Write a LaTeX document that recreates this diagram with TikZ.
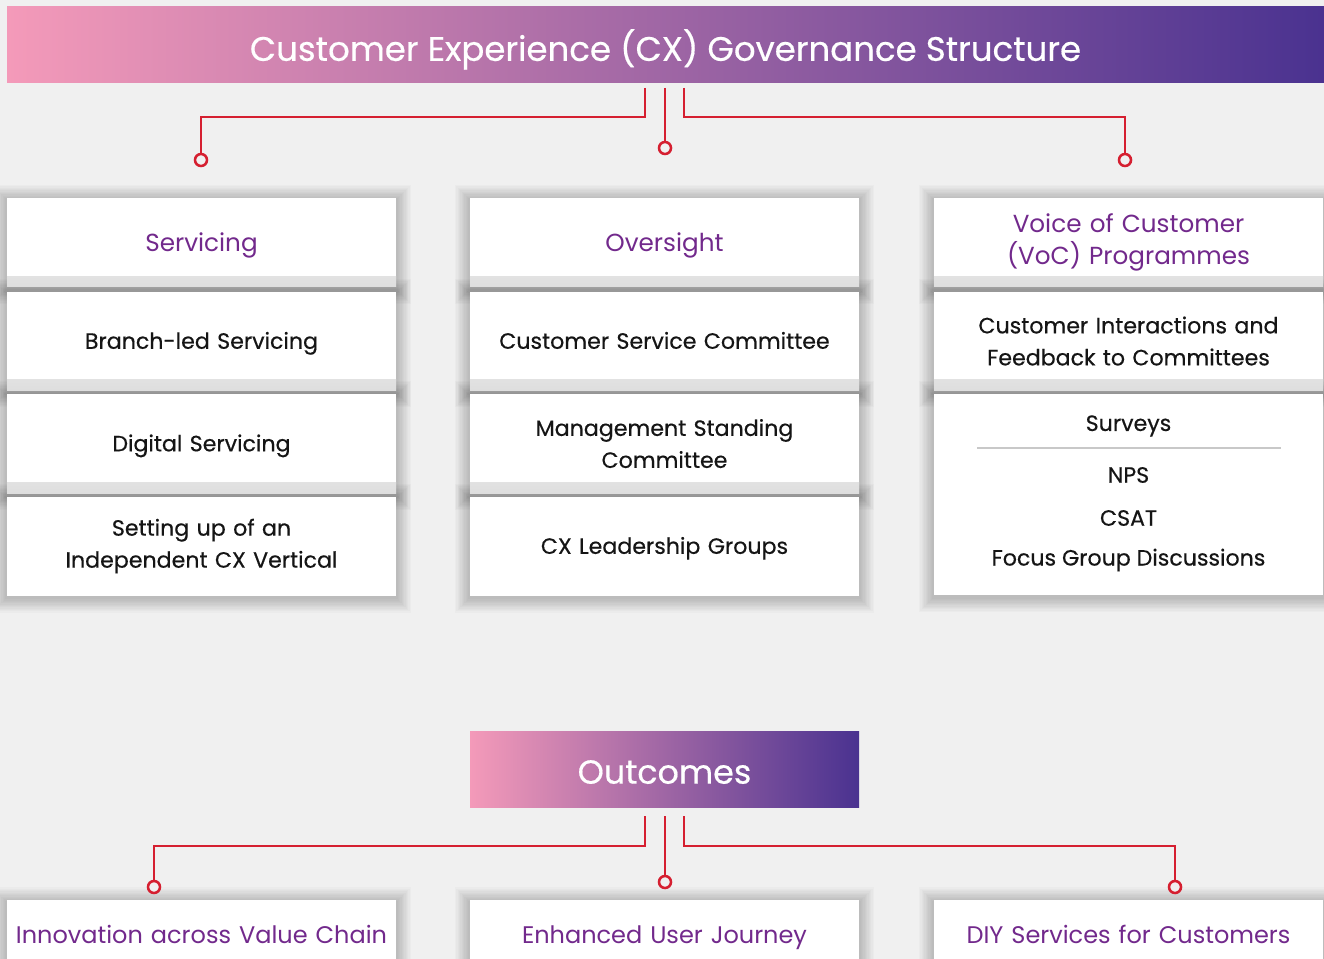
\documentclass[tikz,border=0pt]{standalone}
\usepackage{fontspec}
\setmainfont{Poppins}
\newfontfamily\medfont[FakeBold=0.45]{Poppins}
\usetikzlibrary{positioning, backgrounds}

\definecolor{bgGrey}{HTML}{F0F0F0}
\definecolor{gradPink}{HTML}{F49AB9}
\definecolor{gradPurple}{HTML}{4A3290}
\definecolor{linkRed}{HTML}{D51F30}
\definecolor{headPurple}{HTML}{72298C}
\definecolor{bodyText}{HTML}{151515}
\definecolor{ruleGrey}{HTML}{C8C8C8}

\tikzstyle{banner} = [rectangle, left color=gradPink, right color=gradPurple,
  text=white, inner sep=0pt]
\tikzstyle{card} = [rectangle, fill=white, minimum width=291.75pt,
  text width=290pt, align=center, inner sep=0pt]
\tikzstyle{fadeBottom} = [path picture={\shade[top color=white,
  bottom color=black!13] (path picture bounding box.south west)
  rectangle ([yshift=8pt]path picture bounding box.south east);}]
\tikzstyle{head} = [card, minimum height=66.75pt, text=headPurple,
  font=\fontsize{18.5}{24}\selectfont]
\tikzstyle{headOne} = [head, text height=17.5pt, text depth=4.55pt]
\tikzstyle{item} = [card, minimum height=74.25pt, text=bodyText,
  font=\medfont\fontsize{16.6}{24}\selectfont]
\tikzstyle{itemOne} = [item, text height=15.8pt, text depth=4.2pt]
\tikzstyle{plain} = [text=bodyText, font=\medfont\fontsize{16.6}{24}\selectfont]
\tikzstyle{goal} = [head, minimum height=52pt, anchor=north,
  font=\fontsize{18}{24}\selectfont, text height=17pt, text depth=4.4pt]
\tikzstyle{link} = [linkRed, line width=1.9pt]
\tikzstyle{dot} = [circle, draw=linkRed, line width=1.9pt, fill=bgGrey,
  minimum size=9pt, inner sep=0pt]

\begin{document}
\begin{tikzpicture}[x=0.75pt, y=-0.75pt]

\useasboundingbox (0,0) rectangle (1324,959);

%% banners
\node (title) [banner, minimum width=987.75pt, minimum height=57pt,
  font=\medfont\fontsize{25.5}{30}\selectfont, text height=30pt,
  text depth=6.2pt] at (665.5,45)
  {Customer Experience (CX) Governance Structure};
\node (outcomes) [banner, minimum width=291.75pt, minimum height=57pt,
  font=\medfont\fontsize{25}{30}\selectfont, text height=28pt,
  text depth=6pt] at (664.5,769) {Outcomes};

%% servicing column
\node (servicing) [headOne, fadeBottom] at (201.5,242.5) {Servicing};
\node (branch) [itemOne, fadeBottom, below=3pt of servicing] {Branch-led Servicing};
\node (digital) [itemOne, fadeBottom, below=2.25pt of branch] {Digital Servicing};
\node (vertical) [item, below=2.25pt of digital]
  {Setting up of an\\Independent CX Vertical};

%% oversight column
\node (oversight) [headOne, fadeBottom] at (664.5,242.5) {Oversight};
\node (csc) [itemOne, fadeBottom, below=3pt of oversight] {Customer Service Committee};
\node (msc) [item, fadeBottom, below=2.25pt of csc] {Management Standing\\Committee};
\node (leaders) [itemOne, below=2.25pt of msc] {CX Leadership Groups};

%% voc column
\node (voc) [head, fadeBottom] at (1128.5,242.5) {Voice of Customer\\(VoC) Programmes};
\node (feedback) [item, fadeBottom, below=3pt of voc]
  {Customer Interactions and\\Feedback to Committees};
\node (surveyBox) [item, minimum height=150.75pt, below=2.25pt of feedback] {};
\node (surveys) [plain] at (1128.5,426) {Surveys};
\node (nps) [plain] at (1128.5,475) {NPS};
\node (csat) [plain] at (1128.5,518) {CSAT};
\node (focus) [plain] at (1128.5,560) {Focus Group Discussions};
\draw[ruleGrey, line width=0.8pt] (977,448) -- (1281,448);

%% outcome cards
\node (innovation) [goal] at (201.5,900) {Innovation across Value Chain};
\node (journey) [goal] at (664.5,900) {Enhanced User Journey};
\node (diy) [goal] at (1128.5,900) {DIY Services for Customers};

%% soft shadows behind the cards
\begin{scope}[on background layer]
\fill[bgGrey] (0,0) rectangle (1324,959);
\foreach \card in {servicing,branch,digital,vertical,oversight,csc,msc,
    leaders,voc,feedback,surveyBox,innovation,journey,diy}
  \foreach \k in {1,...,11}
    \fill[black, opacity=0.018]
      ([xshift=-\k pt, yshift=-\k pt-1.5pt]\card.south west) rectangle
      ([xshift=\k pt, yshift=\k pt-1.5pt]\card.north east);
\end{scope}

%% connector ends
\coordinate (tL) at (645,88);
\coordinate (tM) at (665,88);
\coordinate (tR) at (684,88);
\node (dServ) [dot] at (201,160) {};
\node (dOver) [dot] at (665,148) {};
\node (dVoc) [dot] at (1125,160) {};
\coordinate (bL) at (645,816);
\coordinate (bM) at (665,816);
\coordinate (bR) at (684,816);
\node (dInno) [dot] at (154,887) {};
\node (dJourney) [dot] at (665,882) {};
\node (dDiy) [dot] at (1175,887) {};

%% paths
\draw [link] (tL) -- ++(0,29) -| (dServ);
\draw [link] (tM) -- (dOver);
\draw [link] (tR) -- ++(0,29) -| (dVoc);
\draw [link] (bL) -- ++(0,30) -| (dInno);
\draw [link] (bM) -- (dJourney);
\draw [link] (bR) -- ++(0,30) -| (dDiy);

\end{tikzpicture}
\end{document}
